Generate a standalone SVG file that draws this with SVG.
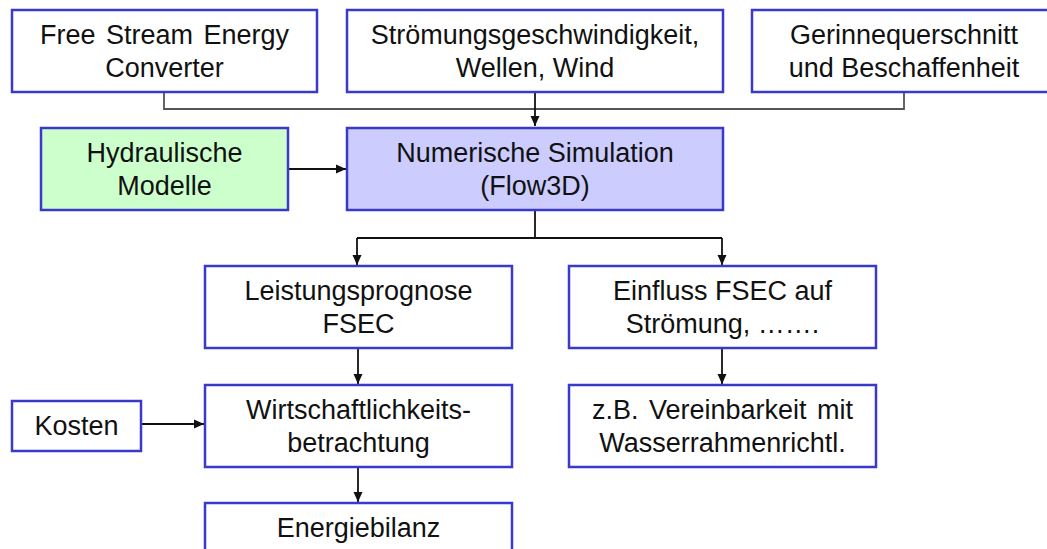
<svg xmlns="http://www.w3.org/2000/svg" width="1047" height="549" viewBox="0 0 1047 549">
<style>
.box{fill:#ffffff;stroke:#3a3ac8;stroke-width:2.5}
.green{fill:#ccffcc}
.purple{fill:#ccccff}
text{font-family:"Liberation Sans",Arial,sans-serif;font-size:27px;fill:#111;text-anchor:middle}
.c{fill:none;stroke:#111;stroke-width:1.8}
.g{fill:none;stroke:#555;stroke-width:1.8}
</style>
<defs>
<marker id="ah" markerWidth="11" markerHeight="11" refX="10" refY="5.5" orient="auto" markerUnits="userSpaceOnUse">
<path d="M0,1 L10,5.5 L0,10 Z" fill="#111"/>
</marker>
</defs>
<rect width="1047" height="549" fill="#ffffff"/>
<g id="connectors">
<path class="g" d="M164,92 V109 H904 V92"/>
<path class="c" d="M535,92 V126" marker-end="url(#ah)"/>
<path class="c" d="M288,169 H346" marker-end="url(#ah)"/>
<path class="c" d="M535,210 V238"/>
<path class="c" d="M357,238 H722"/>
<path class="c" d="M357,238 V265" marker-end="url(#ah)"/>
<path class="c" d="M722,238 V265" marker-end="url(#ah)"/>
<path class="c" d="M358,348 V384" marker-end="url(#ah)"/>
<path class="c" d="M722,348 V384" marker-end="url(#ah)"/>
<path class="c" d="M141,424 H204" marker-end="url(#ah)"/>
<path class="c" d="M358,467 V502" marker-end="url(#ah)"/>
</g>
<g id="n-fsec">
<rect class="box" x="12" y="10" width="305" height="82"/>
<text x="164.5" y="44" word-spacing="3">Free Stream Energy</text>
<text x="164.5" y="77">Converter</text>
</g>
<g id="n-stroemung">
<rect class="box" x="347" y="10" width="376" height="82"/>
<text x="535" y="44">Strömungsgeschwindigkeit,</text>
<text x="535" y="77">Wellen, Wind</text>
</g>
<g id="n-gerinne">
<rect class="box" x="752" y="10" width="305" height="82"/>
<text x="904" y="44">Gerinnequerschnitt</text>
<text x="904" y="77">und Beschaffenheit</text>
</g>
<g id="n-hydraulisch">
<rect class="box green" x="41" y="128" width="247" height="82"/>
<text x="164.5" y="162">Hydraulische</text>
<text x="164.5" y="195">Modelle</text>
</g>
<g id="n-numerisch">
<rect class="box purple" x="347" y="128" width="376" height="82"/>
<text x="535" y="162">Numerische Simulation</text>
<text x="535" y="195">(Flow3D)</text>
</g>
<g id="n-leistung">
<rect class="box" x="205" y="266" width="307" height="82"/>
<text x="358.5" y="300">Leistungsprognose</text>
<text x="358.5" y="333">FSEC</text>
</g>
<g id="n-einfluss">
<rect class="box" x="569" y="266" width="307" height="82"/>
<text x="722.5" y="300">Einfluss FSEC auf</text>
<text x="722.5" y="333">Strömung, …….</text>
</g>
<g id="n-kosten">
<rect class="box" x="12" y="401" width="129" height="50"/>
<text x="76.5" y="435">Kosten</text>
</g>
<g id="n-wirtschaft">
<rect class="box" x="205" y="385" width="307" height="82"/>
<text x="358.5" y="419">Wirtschaftlichkeits-</text>
<text x="358.5" y="452">betrachtung</text>
</g>
<g id="n-vereinbarkeit">
<rect class="box" x="569" y="385" width="307" height="82"/>
<text x="722.5" y="419" word-spacing="3">z.B. Vereinbarkeit mit</text>
<text x="722.5" y="452">Wasserrahmenrichtl.</text>
</g>
<g id="n-energie">
<rect class="box" x="205" y="503" width="307" height="82"/>
<text x="358.5" y="537">Energiebilanz</text>
</g>
</svg>
